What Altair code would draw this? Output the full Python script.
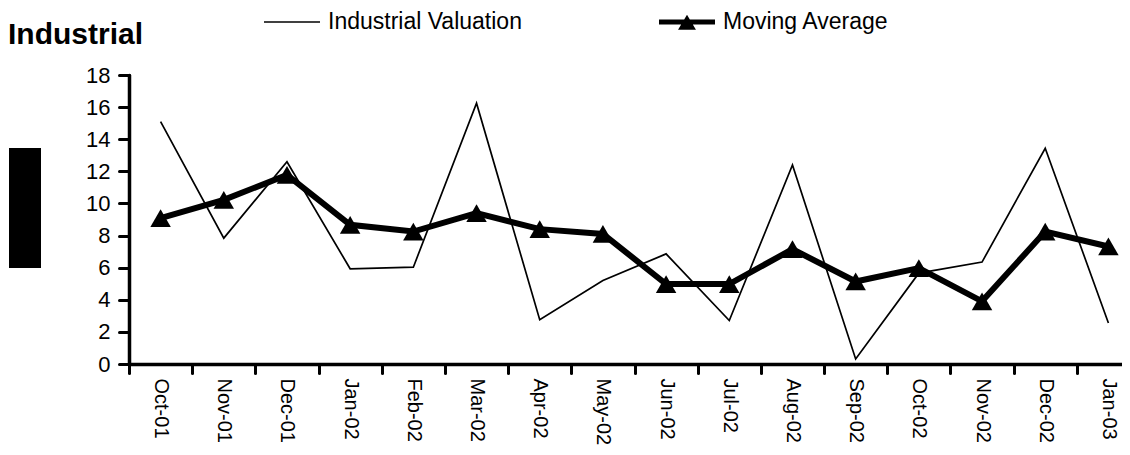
import altair as alt
import pandas as pd

# ---- data ----
months = ["Oct-01", "Nov-01", "Dec-01", "Jan-02", "Feb-02", "Mar-02", "Apr-02", "May-02",
          "Jun-02", "Jul-02", "Aug-02", "Sep-02", "Oct-02", "Nov-02", "Dec-02", "Jan-03"]
valuation = [15.1, 7.84, 12.6, 5.93, 6.03, 16.24, 2.76, 5.2,
             6.86, 2.71, 12.4, 0.31, 5.66, 6.35, 13.44, 2.55]
moving_avg = [9.08, 10.22, 11.78, 8.67, 8.25, 9.4, 8.4, 8.1,
              4.98, 4.98, 7.15, 5.14, 5.97, 3.9, 8.25, 7.32]
y_ticks = [0, 2, 4, 6, 8, 10, 12, 14, 16, 18]
series_names = ["Industrial Valuation", "Moving Average"]
title_text = "Industrial"

df = pd.DataFrame({
    "month": months + months,
    "series": [series_names[0]] * len(months) + [series_names[1]] * len(months),
    "value": valuation + moving_avg,
})

FONT = "Liberation Sans"

x_enc = alt.X(
    "month:N",
    bandPosition=0.5,
    scale=alt.Scale(type="band", domain=months, paddingInner=0, paddingOuter=0, range=[0, 1011]),
    axis=alt.Axis(
        title=None, labelAngle=90, labelFont=FONT, labelFontSize=20, labelColor="black",
        labelPadding=5, labelOverlap=False, labelLimit=0, tickSize=9, tickWidth=3,
        tickColor="black", tickCap="round", tickBand="extent", domainColor="black",
        domainWidth=3.5, domainCap="round", grid=False,
    ),
)
y_enc = alt.Y(
    "value:Q",
    scale=alt.Scale(domain=[0, 18], nice=False, zero=True),
    axis=alt.Axis(
        title=None, values=y_ticks, format="d", labelFont=FONT, labelFontSize=22,
        labelColor="black", labelPadding=9, tickSize=10, tickWidth=3, tickColor="black",
        tickCap="round", domainColor="black", domainWidth=3.5, domainCap="round", grid=False,
    ),
)

base = alt.Chart(df)

thin = base.transform_filter(alt.datum.series == series_names[0]).mark_line(
    color="black", strokeWidth=1.7
).encode(x=x_enc, y=y_enc)

thick = base.transform_filter(alt.datum.series == series_names[1]).mark_line(
    color="black", strokeWidth=6
).encode(x=x_enc, y=y_enc)

pts = base.transform_filter(alt.datum.series == series_names[1]).mark_point(
    shape="triangle-up", filled=True, color="black", size=420, opacity=1
).encode(x=x_enc, y=y_enc)

# legend symbols: thin line / thick line with triangle
path_line = "M-1,-0.03H1V0.03H-1Z"
path_ma = "M-1,-0.09H1V0.09H-1Z M0,-0.26L0.32,0.28H-0.32Z"

leg = base.transform_filter("false").mark_point(
    filled=True, color="black", opacity=1, size=3136
).encode(
    shape=alt.Shape(
        "series:N",
        scale=alt.Scale(domain=series_names, range=[path_line, path_ma]),
        legend=alt.Legend(
            title=None, orient="none", legendX=135, legendY=-81, direction="horizontal",
            labelFont=FONT, labelFontSize=23, labelColor="black", labelOffset=8,
            labelLimit=0, columnPadding=137, symbolSize=3136, symbolFillColor="black",
            symbolStrokeWidth=0, symbolOpacity=1, padding=0,
        ),
    )
)

box = alt.Chart(alt.Data(values=[{"k": 1}])).mark_rect(color="black").encode(
    x=alt.value(-120), x2=alt.value(-88), y=alt.value(73), y2=alt.value(193)
)

chart = alt.layer(thin, thick, pts, leg, box).properties(
    width=993,
    height=289,
    title=alt.TitleParams(
        text=title_text, anchor="start", frame="group", font=FONT, fontSize=30,
        fontWeight="bold", color="black", dx=-121, dy=60,
    ),
    padding={"left": 121, "top": 67, "right": 0, "bottom": 83},
    autosize=alt.AutoSizeParams(type="none"),
).configure_view(stroke=None)

chart.save("out.html", embed_options={"renderer": "svg", "actions": False})
